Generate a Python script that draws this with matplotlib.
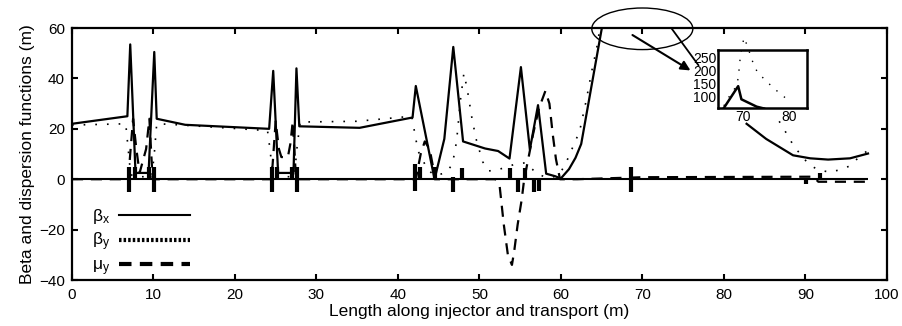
import numpy as np
import matplotlib
matplotlib.use('Agg')
import matplotlib.pyplot as plt
from matplotlib.lines import Line2D
from matplotlib.patches import Ellipse

plt.rcParams['font.family'] = ['Liberation Sans', 'DejaVu Sans']
plt.rcParams['mathtext.default'] = 'regular'

# beta_x (solid)
bx_s = [0, 6.8, 7.15, 7.8, 8.1, 9.2, 9.4, 10.1, 10.4, 13.9, 24.2, 24.7, 25.3, 25.6,
        27.0, 27.2, 27.55, 27.9, 35.3, 41.8, 42.2, 44.5, 45.7, 46.8, 48.0, 50.7,
        52.3, 53.7, 55.1, 56.2, 57.2, 58.2, 59.3, 60.0, 61.0, 61.8, 62.5, 63.6,
        64.4, 65.2, 66.0, 82.8, 85.2, 88.5, 90.6, 92.8, 95.5, 97.7]
bx = [22, 25, 53.5, 2.5, 2.5, 2.5, 2.5, 50.5, 24, 21.6, 20, 43, 2.5, 2.5,
      2.5, 4, 44, 21, 20.4, 24.5, 37, 0, 16, 52.5, 15, 12.2,
      11.2, 8.2, 44.5, 11.8, 29.4, 2.2, 1.2, 0.3, 4, 8.5, 14, 34,
      48.5, 63, np.nan, 22, 16, 9.5, 8.3, 7.8, 8.3, 10.2]

# beta_y (dotted)
by_s = [0, 6.6, 6.9, 7.2, 7.6, 9.8, 10.1, 10.4, 12, 24, 24.3, 24.6, 25.0, 27.3,
        27.6, 28.0, 35, 41.7, 42.2, 42.5, 43.0, 43.6, 44.5, 45.9, 46.7, 47.2,
        47.7, 48.1, 48.5, 49.1, 49.6, 50.4, 51.1, 52, 53, 54.4, 55.6, 56.5, 57,
        58, 59, 59.8, 60.5, 61.5, 62.3, 63.1, 63.8, 64.4, 64.9, 65.5, 86.8, 88.1,
        88.7, 89.5, 90.3, 91.5, 93, 94.2, 95.5, 96.5, 97.5]
by = [21.5, 22, 12, 2, 1, 1, 10, 22, 21.8, 19.3, 12, 3, 1, 1,
      12, 22.7, 23, 25, 16, 11, 8, 4, 1.5, 2.5, 6, 15,
      32, 42, 36, 24, 16, 7, 3.3, 3.5, 4.5, 6, 6.5, 4, 2.2,
      1, 0.8, 2, 5.5, 13, 19, 31, 43, 52, 62, np.nan, 23, 16,
      12.4, 9.8, 6.3, 3.8, 2.8, 3.7, 5.3, 8.5, 11]

# mu_y (dashed)
mu_s = [0, 6.9, 7.5, 7.9, 8.3, 9.1, 9.5, 9.9, 24.5, 25.0, 25.4, 25.7, 26.5, 26.8,
        27.1, 27.5, 42.2, 42.8, 43.3, 43.9, 44.6, 52.0, 52.5, 53.0, 53.5, 54.0,
        54.3, 54.7, 55.2, 55.5, 56.0, 56.6, 57.3, 58.1, 58.6, 59.0, 59.4, 59.9,
        62, 70, 91, 91.6, 97.7]
mu = [0, 0, 24, 12, 2.5, 12, 24, 0, 0, 23, 12, 8.8, 8.8, 14,
      23, 0, 0, 10, 15, 12, 0, 0, -3, -18, -30, -34,
      -28, -18, -8, 0, 8, 18, 28, 35, 30, 18, 8, 0,
      0, 0.8, 1, -1, -1]

# magnet markers on the axis
quad_s = [7.0, 7.7, 9.5, 10.1, 24.5, 25.2, 27.0, 27.6, 42.1, 42.7, 44.6, 46.8, 47.9,
          53.7, 54.7, 55.6, 56.7, 57.3, 68.6, 90.1, 91.8]
quad_top = [5, 5, 5, 5, 5, 5, 5, 5, 6, 5, 5, 1, 4.5,
            4.5, 0, 4.5, 0, 0, 5, 0, 2.6]
quad_bot = [-5, 0, 0, -5, -5, 0, 0, -5, -4.5, 0, 0, -5, 0,
            0, -5, 0, -5, -4.5, -5, -2, 0]
line_end = 97.7

# zoomed view (inset)
ins_bx_s = [65.8, 68.9, 69.6, 72.9, 74.5]
ins_bx = [57, 140, 90, 62, 55]
ins_by_s = [65.8, 66.7, 68.0, 68.9, 69.3, 69.7, 70.2, 71.1, 72.0, 73.0, 74.7, 76.5, 78.3, 80.2]
ins_by = [65, 94, 125, 168, 240, 290, 325, 282, 235, 195, 164, 134, 107, 81]

fig = plt.figure(figsize=(9.03, 3.26), dpi=100)
ax = fig.add_axes([0.0797, 0.141, 0.9023, 0.773])

ax.hlines(0, 0, line_end, color='k', lw=1.5)
ax.vlines(quad_s, quad_bot, quad_top, color='k', lw=3)
ax.plot(bx_s, bx, color='k', lw=1.6)
ax.plot(by_s, by, color='k', lw=1.2, linestyle=(0, (1, 6)))
ax.plot(mu_s, mu, color='k', lw=1.6, linestyle=(0, (5, 3.5)))

ax.set_xlim(0, 100)
ax.set_ylim(-40, 60)
ax.set_xticks(range(0, 101, 10))
ax.set_yticks(range(-40, 61, 20))
ax.tick_params(direction='in', top=True, right=True, length=4, width=1.5,
               labelsize=11)
ax.tick_params(axis='x', pad=6)
ax.tick_params(axis='y', pad=5)
for sp in ax.spines.values():
    sp.set_linewidth(1.6)
ax.set_xlabel('Length along injector and transport (m)', fontsize=12.5, labelpad=1)
ax.set_ylabel('Beta and dispersion functions (m)', fontsize=12.5, labelpad=3)

handles = [Line2D([], [], color='k', lw=1.5),
           Line2D([], [], color='k', lw=3, linestyle=(0, (0.6, 0.5))),
           Line2D([], [], color='k', lw=3, linestyle=(0, (3, 2)))]
ax.legend(handles, [r'$\beta_x$', r'$\beta_y$', r'$\mu_y$'], loc='upper left',
          bbox_to_anchor=(0.005, 0.35), frameon=False, markerfirst=False,
          handlelength=4.1, fontsize=12.5, labelspacing=0.25, handletextpad=0.5)

# ellipse and arrows pointing to the inset
ax.add_patch(Ellipse((70.0, 59.7), 12.4, 16.5, fill=False, color='k', lw=1.0,
                     clip_on=False))
ax.annotate('', xy=(76.2, 42.6), xytext=(68.5, 57.8), annotation_clip=False,
            arrowprops=dict(arrowstyle='-|>', color='k', lw=1.5, mutation_scale=14))
ax.annotate('', xy=(76.9, 45.2), xytext=(73.6, 59.8), annotation_clip=False,
            arrowprops=dict(arrowstyle='-', color='k', lw=1.3, shrinkA=0, shrinkB=0))

ins = fig.add_axes([0.7955, 0.668, 0.0986, 0.179])
ins.set_facecolor('white')
ins.plot(ins_bx_s, ins_bx, color='k', lw=1.8)
ins.plot(ins_by_s, ins_by, color='k', lw=1.0, linestyle=(0, (1, 6)), clip_on=False)
ins.set_xlim(64.6, 83.9)
ins.set_ylim(56, 278)
ins.set_xticks([70, 80])
ins.set_yticks([100, 150, 200, 250])
ins.tick_params(length=0, pad=1.5, labelsize=10)
for lab in ins.get_xticklabels() + ins.get_yticklabels():
    lab.set_family(['Liberation Sans Narrow', 'Liberation Sans'])
for sp in ins.spines.values():
    sp.set_linewidth(1.8)

fig.savefig('out.png', dpi=100)
